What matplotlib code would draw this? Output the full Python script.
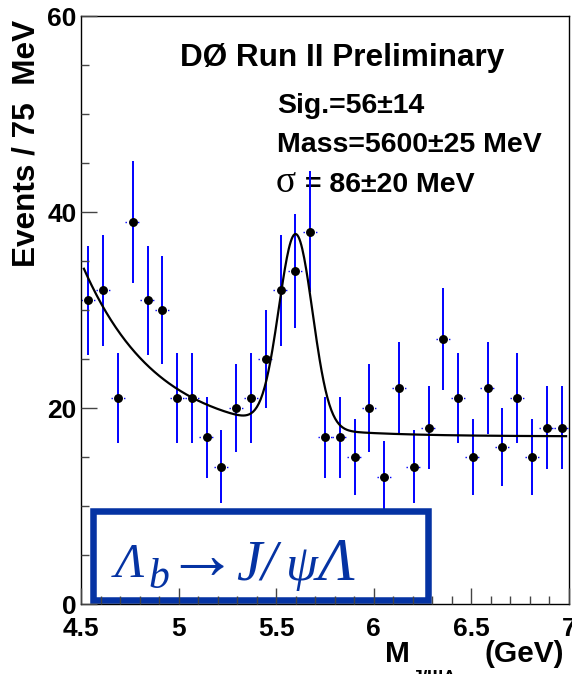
import matplotlib

matplotlib.use("Agg")
import matplotlib.pyplot as plt
import numpy as np
from matplotlib.patches import Rectangle
from matplotlib.ticker import MultipleLocator

FIG_W, FIG_H = 572, 674

MASS_LOW, MASS_HIGH = 4.5, 7.0
N_BINS = 33
EVENTS = [31, 32, 21, 39, 31, 30, 21, 21, 17, 14, 20, 21, 25, 32, 34, 38, 17,
          17, 15, 20, 13, 22, 14, 18, 27, 21, 15, 22, 16, 21, 15, 18, 18]

# fit result: gaussian signal on top of an exponential background
SIG_YIELD, SIG_YIELD_ERR = 56, 14
PEAK_MASS, PEAK_MASS_ERR = 5.600, 25
PEAK_SIGMA, PEAK_SIGMA_ERR = 0.086, 20
BKG_CONST = 17.1
BKG_AMP = 17.8
BKG_SLOPE = 2.64

X_TICKS = [4.5, 5, 5.5, 6, 6.5, 7]
X_TICK_LABELS = ["4.5", "5", "5.5", "6", "6.5", "7"]
Y_TICKS = [0, 20, 40, 60]

BLUE = "#0000ff"
NAVY = "#0533a3"
SANS = "Liberation Sans"
SERIF = "Liberation Serif"

plt.rcParams["font.family"] = SANS
plt.rcParams["font.weight"] = "bold"


def fig_xy(x, y):
    # pixel position (origin top-left) -> figure fraction
    return x / FIG_W, 1 - y / FIG_H


def fit_curve(m, bin_width):
    bkg = BKG_CONST + BKG_AMP * np.exp(-BKG_SLOPE * (m - MASS_LOW))
    norm = SIG_YIELD * bin_width / (np.sqrt(2 * np.pi) * PEAK_SIGMA)
    sig = norm * np.exp(-0.5 * ((m - PEAK_MASS) / PEAK_SIGMA) ** 2)
    return bkg + sig


def draw(output="out.png"):
    fig = plt.figure(figsize=(FIG_W / 100, FIG_H / 100), dpi=100)
    ax = fig.add_axes([81 / FIG_W, 70 / FIG_H, 488 / FIG_W, 588 / FIG_H])

    edges = np.linspace(MASS_LOW, MASS_HIGH, N_BINS + 1)
    centers = 0.5 * (edges[:-1] + edges[1:])
    width = edges[1] - edges[0]
    counts = np.array(EVENTS, dtype=float)
    errs = np.sqrt(counts)

    ax.vlines(centers, counts - errs, counts + errs, color=BLUE, lw=1.4, zorder=1.5)
    ax.hlines(counts, centers - width / 2, centers + width / 2, color=BLUE, lw=1,
              linestyles=(0, (1, 2)), zorder=1.5)
    ax.plot(centers, counts, "o", color="black", ms=5.4, zorder=2)

    m = np.linspace(4.515, 6.985, 500)
    ax.plot(m, fit_curve(m, width), color="black", lw=1.6, zorder=2.2)

    ax.set_xlim(MASS_LOW, MASS_HIGH)
    ax.set_ylim(0, 60)
    ax.set_xticks(X_TICKS, X_TICK_LABELS)
    ax.set_yticks(Y_TICKS)
    ax.xaxis.set_minor_locator(MultipleLocator(0.1))
    ax.yaxis.set_minor_locator(MultipleLocator(5))
    ax.set_axisbelow(False)
    ax.tick_params(which="both", direction="in", top=False, right=False,
                   color="#444444", width=1, labelsize=19)
    ax.tick_params(which="major", length=11.5)
    ax.tick_params(which="minor", length=5.8)
    ax.tick_params(axis="x", pad=9)
    ax.tick_params(axis="y", pad=3)
    for spine in ax.spines.values():
        spine.set_linewidth(1)

    # decay channel box
    box = Rectangle(fig_xy(93.3, 599.7), 334.4 / FIG_W, 88.4 / FIG_H,
                    transform=fig.transFigure, facecolor="white", edgecolor=NAVY,
                    lw=4.7, zorder=2.3, clip_on=False)
    ax.add_patch(box)
    serif = dict(family=SERIF, style="italic", weight="normal", color=NAVY,
                 ha="left", va="baseline")
    fig.text(*fig_xy(115, 577), "Λ", fontsize=35, **serif)
    fig.text(*fig_xy(148, 588), "b", fontsize=30, **serif)
    fig.text(*fig_xy(165, 578), "→", fontsize=52, **serif)
    fig.text(*fig_xy(236, 580), "J/", fontsize=41, **serif)
    fig.text(*fig_xy(286, 580), "ψ", fontsize=37, **serif)
    fig.text(*fig_xy(318, 580), "Λ", fontsize=44, **serif)

    # fit summary, drawn under the data like the rest of the pad
    info = dict(transform=fig.transFigure, ha="left", va="baseline", zorder=1)
    ax.text(*fig_xy(180, 66), "DØ Run II Preliminary", fontsize=22.7, **info)
    ax.text(*fig_xy(277, 113), f"Sig.={SIG_YIELD}±{SIG_YIELD_ERR}", fontsize=20.5, **info)
    ax.text(*fig_xy(277, 152), f"Mass={PEAK_MASS * 1000:.0f}±{PEAK_MASS_ERR} MeV",
            fontsize=20.5, **info)
    ax.text(*fig_xy(276, 192), "σ", fontsize=27, family=SERIF, weight="normal", **info)
    ax.text(*fig_xy(305, 192), f"= {PEAK_SIGMA * 1000:.0f}±{PEAK_SIGMA_ERR} MeV",
            fontsize=20.5, **info)

    fig.text(*fig_xy(35, 20), "Events / 75  MeV", fontsize=22.7, rotation=90,
             rotation_mode="anchor", ha="right", va="baseline")
    fig.text(*fig_xy(385, 662), "M", fontsize=21.5, ha="left", va="baseline")
    fig.text(*fig_xy(412, 683), "J/ΨΛ", fontsize=14, ha="left", va="baseline")
    fig.text(*fig_xy(484, 662), "(GeV)", fontsize=21.5, ha="left", va="baseline")

    fig.savefig(output, dpi=100)
    plt.close(fig)


if __name__ == "__main__":
    draw()
